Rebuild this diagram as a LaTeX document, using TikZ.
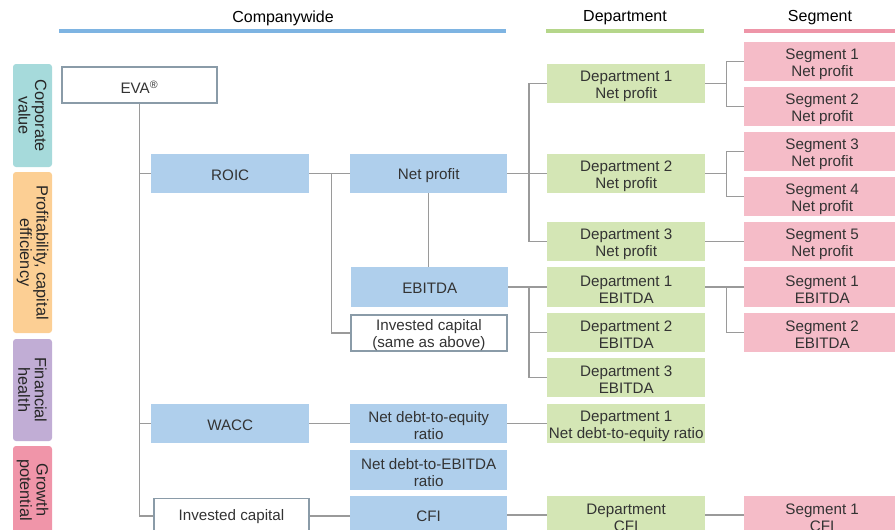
\documentclass[tikz,border=0pt]{standalone}
\usepackage{fontspec}
\setmainfont{Liberation Sans}
\definecolor{boxblue}{HTML}{AFCFEC}
\definecolor{boxgreen}{HTML}{D4E6B5}
\definecolor{boxpink}{HTML}{F5BCC8}
\definecolor{bord}{HTML}{8A9BA8}
\definecolor{txt}{HTML}{333333}
\definecolor{conn}{HTML}{9A9A9A}
\definecolor{hblue}{HTML}{7EB4E2}
\definecolor{hgreen}{HTML}{B5D68A}
\definecolor{hpink}{HTML}{EE95A8}
\definecolor{lteal}{HTML}{A6DADB}
\definecolor{lorange}{HTML}{FCCF94}
\definecolor{lpurple}{HTML}{C1ADD5}
\definecolor{lpink}{HTML}{F095A9}
% optional arg: vertical text shift; then name, x, y, w, h, style, text
\newcommand\bx[8][-2.2]{%
  \node[#7, minimum width=#5pt, minimum height=#6pt] (#2) at (#3,#4) {};
  \node[boxtext] (#2-t) at ([yshift=#1pt]#2.center) {#8};}
\begin{document}
\begin{tikzpicture}[x=1pt,y=-1pt,
  box/.style={anchor=north west, inner sep=0pt},
  boxtext/.style={inner sep=0pt, align=center, font=\fontsize{15.2}{17}\selectfont, text=txt},
  blu/.style={box, fill=boxblue},
  grn/.style={box, fill=boxgreen},
  pnk/.style={box, fill=boxpink},
  wht/.style={box, fill=white, draw=bord, line width=1.8pt},
  con/.style={draw=conn, line width=1.5pt},
  hdr/.style={font=\fontsize{16}{18}\selectfont, text=black, inner sep=0pt},
  hline/.style={line width=3.5pt},
  lab/.style={rounded corners=3pt, inner sep=0pt, align=center, rotate=-90, minimum height=39pt, font=\fontsize{16.3}{16.5}\selectfont, text=black!85}
]
\useasboundingbox (0,0) rectangle (895,530);
\clip (0,0) rectangle (895,530);

% headers
\node[hdr] (hc) at (283,18) {Companywide};
\node[hdr] (hd) at (625,18) {Department};
\node[hdr] (hs) at (820,18) {Segment};
\draw[hline, hblue] (59,31) -- (506,31);
\draw[hline, hgreen] (546,31) -- (704,31);
\draw[hline, hpink] (744,31) -- (895,31);

% left labels
\node[lab, fill=lteal, minimum width=103pt] (l1) at (32.5,115.5) {Corporate\\value};
\node[lab, fill=lorange, minimum width=161pt] (l2) at (32.5,252.5) {Profitability, capital\\efficiency};
\node[lab, fill=lpurple, minimum width=102pt] (l3) at (32.5,390) {Financial\\health};
\node[lab, fill=lpink, minimum width=88pt] (l4) at (32.5,490) {Growth\\potential};

% companywide
\bx[-2.5]{eva}{61}{66}{155}{36}{wht}{EVA\textsuperscript{®}}
\bx[-1.5]{roic}{151}{154}{158}{39}{blu}{ROIC}
\bx[-1.5]{np}{350}{154}{157}{39}{blu}{Net profit}
\bx[-1.5]{ebitda}{351}{267}{157}{40}{blu}{EBITDA}
\bx{icsame}{350}{314}{156}{36}{wht}{Invested capital\\(same as above)}
\bx[-1.5]{wacc}{151}{404}{158}{39}{blu}{WACC}
\bx{nde}{350}{404}{157}{39}{blu}{Net debt-to-equity\\ratio}
\bx{nebitda}{350}{450}{157}{40}{blu}{Net debt-to-EBITDA\\ratio}
\bx[-1.5]{cfi}{350}{496}{157}{38}{blu}{CFI}
\bx[-1]{ic}{153}{497.5}{155}{35}{wht}{Invested capital}

% departments
\bx{d1np}{547}{64}{158}{39}{grn}{Department 1\\Net profit}
\bx{d2np}{547}{154}{158}{39}{grn}{Department 2\\Net profit}
\bx{d3np}{547}{222}{158}{39}{grn}{Department 3\\Net profit}
\bx{d1e}{547}{267}{158}{40}{grn}{Department 1\\EBITDA}
\bx{d2e}{547}{313}{158}{39}{grn}{Department 2\\EBITDA}
\bx{d3e}{547}{358}{158}{39}{grn}{Department 3\\EBITDA}
\bx{d1nde}{547}{404}{158}{39}{grn}{Department 1\\Net debt-to-equity ratio}
\bx{dcfi}{547}{496}{158}{38}{grn}{Department\\CFI}

% segments
\bx{s1}{744}{42}{156}{39}{pnk}{Segment 1\\Net profit}
\bx{s2}{744}{87}{156}{39}{pnk}{Segment 2\\Net profit}
\bx{s3}{744}{132}{156}{39}{pnk}{Segment 3\\Net profit}
\bx{s4}{744}{177}{156}{39}{pnk}{Segment 4\\Net profit}
\bx{s5}{744}{222}{156}{39}{pnk}{Segment 5\\Net profit}
\bx{s1e}{744}{267}{156}{40}{pnk}{Segment 1\\EBITDA}
\bx{s2e}{744}{313}{156}{39}{pnk}{Segment 2\\EBITDA}
\bx{s1c}{744}{496}{156}{38}{pnk}{Segment 1\\CFI}

% connectors
\draw[con] (eva.south) -- (eva.south |- ic.west) -- (ic.west);
\draw[con] (eva.south |- roic.west) -- (roic.west);
\draw[con] (eva.south |- wacc.west) -- (wacc.west);
\draw[con] (roic.east) -- (np.west);
\path (roic.east) ++(22,0) coordinate (jr);
\draw[con] (jr) |- (icsame.west);
\draw[con] (np.south) -- (np.south |- ebitda.north);
\draw[con] (np.east) -- (d2np.west);
\draw[con] (d1np.west) -- ++(-18,0) |- (d3np.west);
\draw[con] (ebitda.east) -- (d1e.west);
\path (d1e.west) ++(-18,0) coordinate (je);
\draw[con] (je) |- (d3e.west);
\draw[con] (je |- d2e.west) -- (d2e.west);
\draw[con] (wacc.east) -- (nde.west);
\draw[con] (nde.east) -- (d1nde.west);
\draw[con] (ic.east) -- (ic.east -| cfi.west);
\draw[con] (cfi.east) -- (dcfi.west);
\draw[con] (dcfi.east) -- (s1c.west);
\draw[con] (d3np.east) -- (s5.west);
\path (d1np.east) ++(21,0) coordinate (k1);
\draw[con] (d1np.east) -- (k1);
\draw[con] (s1.west) -| (k1) |- (s2.west);
\path (d2np.east) ++(21,0) coordinate (k2);
\draw[con] (d2np.east) -- (k2);
\draw[con] (s3.west) -| (k2) |- (s4.west);
\path (d1e.east) ++(21,0) coordinate (k3);
\draw[con] (d1e.east) -- (k3);
\draw[con] (s1e.west) -| (k3) |- (s2e.west);
\end{tikzpicture}
\end{document}
